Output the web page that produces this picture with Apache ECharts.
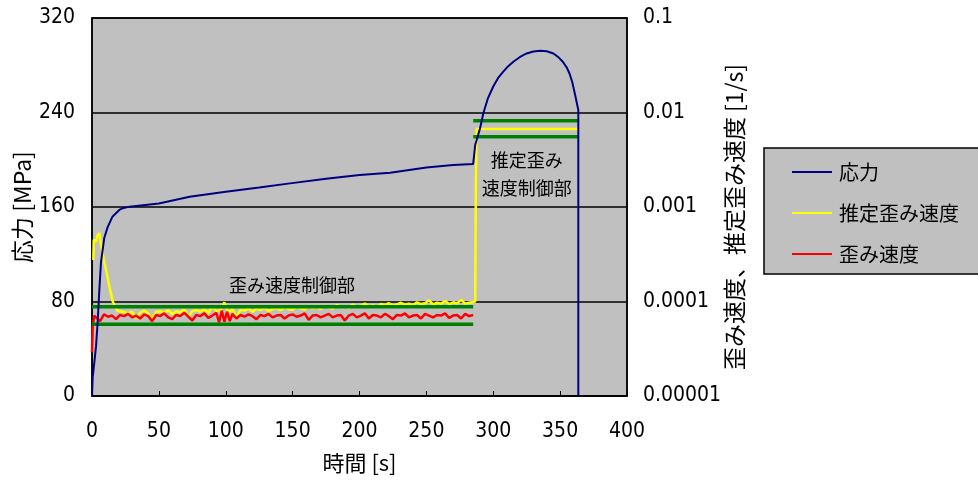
<!DOCTYPE html>
<html>
<head>
<meta charset="utf-8">
<script src="https://cdn.jsdelivr.net/npm/echarts@6/dist/echarts.min.js"></script>
<style>html,body{margin:0;padding:0;background:#fff}#c{width:978px;height:484px}</style>
</head>
<body>
<div id="c"></div>
<script>
// ---- data ----
const xTicks = [0, 50, 100, 150, 200, 250, 300, 350, 400];
const leftTicks = [0, 80, 160, 240, 320];
const rightTickLabels = ['0.00001', '0.0001', '0.001', '0.01', '0.1'];

// 応力 (stress, MPa)
const stressTime = [0, 0.5, 1.7, 3, 4.2, 5.5, 6.7, 8, 9.2, 11.7, 15.4, 20.4, 23, 28, 50, 73, 100, 125, 148, 175, 200, 223, 250, 270, 285, 285.5, 286.5, 290, 292.6, 296, 300, 303.5, 307.5, 311, 315, 320, 325, 330, 335, 340, 345, 349, 352, 355, 357, 359, 361, 362.5, 363.6, 363.6];
const stressVals = [0, 16, 28, 42, 62, 90, 113, 124, 134, 143, 152, 157.5, 159, 160.3, 163, 168.7, 173, 176.5, 180, 184, 187, 189, 193.5, 195.5, 196.5, 198, 212.5, 226, 239.4, 252, 262, 269, 274.6, 279, 283, 287, 290, 291.7, 292.3, 291.8, 290, 286.5, 283, 278, 273, 266, 256, 248, 242, 0];

// 推定歪み速度 (estimated strain rate, 1/s)
const yellowTime = [1, 1.3, 2.2, 3, 4, 5.5, 6.7, 8, 9.2, 11, 13, 15.5, 17, 19,
  21, 24, 27, 30, 33, 36, 39, 42, 45, 48, 51, 54, 57, 60, 63, 66, 69, 72, 75, 78, 81, 84, 87, 90,
  93, 96, 99, 102, 105, 108, 111, 114, 117, 120, 123, 126, 129, 132, 135, 138, 141, 144, 147, 150,
  153, 156, 159, 162, 165, 168, 171, 174, 177, 180, 183, 186, 189, 192, 195, 198, 201, 204, 207, 210,
  213, 216, 219, 222, 225, 228, 231, 234, 237, 240, 243, 246, 249, 252, 255, 258, 261, 264, 267, 270,
  273, 276, 279, 282, 285, 286.5, 287, 287.5, 363.6];
const yellowRate = [2.75e-4, 4.5e-4, 4.7e-4, 4.3e-4, 5.0e-4, 5.3e-4, 4.0e-4, 3.2e-4, 2.6e-4, 2.0e-4, 1.44e-4, 1.0e-4, 9.0e-5, 8.0e-5,
  7.9e-5, 7.7e-5, 7.5e-5, 7.8e-5, 6.6e-5, 7.6e-5, 8.0e-5, 7.5e-5, 6.5e-5, 7.8e-5, 7.9e-5, 7.6e-5, 8.1e-5, 7.4e-5, 7.9e-5, 7.7e-5, 8.2e-5, 6.9e-5, 7.9e-5, 8.1e-5, 7.8e-5, 8.3e-5, 7.6e-5, 8.9e-5,
  7.9e-5, 8.1e-5, 9.8e-5, 7.6e-5, 8.3e-5, 6.8e-5, 8.2e-5, 8.0e-5, 8.5e-5, 7.8e-5, 8.4e-5, 8.1e-5, 8.6e-5, 7.9e-5, 8.3e-5, 8.5e-5, 8.1e-5, 8.7e-5, 8.3e-5, 8.2e-5,
  8.8e-5, 8.4e-5, 8.2e-5, 8.9e-5, 8.5e-5, 8.7e-5, 8.3e-5, 9.0e-5, 8.6e-5, 8.4e-5, 9.2e-5, 8.7e-5, 8.9e-5, 8.5e-5, 9.3e-5, 8.8e-5, 9.0e-5, 9.5e-5, 8.9e-5, 9.1e-5,
  8.7e-5, 9.4e-5, 9.1e-5, 9.6e-5, 9.0e-5, 9.3e-5, 9.7e-5, 9.2e-5, 9.5e-5, 9.1e-5, 9.8e-5, 9.4e-5, 9.6e-5, 1.03e-4, 9.3e-5, 9.7e-5, 9.5e-5, 1.01e-4, 9.4e-5, 9.8e-5,
  9.6e-5, 1.04e-4, 9.5e-5, 9.7e-5, 9.9e-5, 1.0e-4, 1.64e-3, 6.68e-3, 6.68e-3];

// 歪み速度 (strain rate, 1/s)
const redTime = [0, 0.5, 1.5, 1.7,
  3, 6, 9, 12, 15, 18, 21, 24, 27, 30, 33, 36, 39, 42, 45, 48, 51, 54, 57, 60, 63, 66, 69, 72, 75, 78, 81, 84, 87, 90,
  93, 95, 97, 99, 101, 103, 105, 108, 111, 114, 117, 120, 123, 126, 129, 132, 135, 138, 141, 144, 147, 150,
  153, 156, 159, 162, 165, 168, 171, 174, 177, 180, 183, 186, 189, 192, 195, 198, 201, 204, 207, 210,
  213, 216, 219, 222, 225, 228, 231, 234, 237, 240, 243, 246, 249, 252, 255, 258, 261, 264, 267, 270,
  273, 276, 279, 282, 285];
const redRate = [2.9e-5, 5.4e-5, 5.6e-5, 7.1e-5,
  7.0e-5, 6.2e-5, 7.3e-5, 6.9e-5, 7.1e-5, 6.5e-5, 7.2e-5, 7.0e-5, 7.4e-5, 6.8e-5, 7.1e-5, 6.6e-5, 7.3e-5, 7.0e-5, 6.2e-5, 7.2e-5, 7.0e-5, 7.5e-5, 6.8e-5, 6.5e-5, 7.2e-5, 7.0e-5, 7.6e-5, 6.9e-5, 6.3e-5, 7.2e-5, 7.0e-5, 7.5e-5, 6.7e-5, 7.1e-5,
  7.6e-5, 6.0e-5, 8.0e-5, 6.1e-5, 7.8e-5, 6.2e-5, 7.4e-5, 6.6e-5, 7.2e-5, 6.9e-5, 7.3e-5, 7.0e-5, 6.5e-5, 7.2e-5, 7.0e-5, 7.4e-5, 6.8e-5, 7.1e-5, 7.2e-5, 6.6e-5, 7.1e-5, 7.3e-5,
  6.9e-5, 7.1e-5, 7.5e-5, 6.4e-5, 7.1e-5, 7.2e-5, 6.8e-5, 7.1e-5, 7.4e-5, 6.8e-5, 7.1e-5, 7.2e-5, 6.3e-5, 7.1e-5, 7.4e-5, 6.8e-5, 7.1e-5, 7.5e-5, 6.6e-5, 7.2e-5,
  7.1e-5, 6.8e-5, 7.4e-5, 7.0e-5, 6.5e-5, 7.2e-5, 7.1e-5, 7.5e-5, 6.8e-5, 7.1e-5, 7.2e-5, 6.6e-5, 7.4e-5, 7.1e-5, 6.8e-5, 7.2e-5, 7.1e-5, 7.5e-5, 6.7e-5, 7.1e-5,
  7.2e-5, 6.6e-5, 7.4e-5, 7.0e-5, 7.2e-5];

// 制御範囲 (green limit lines)
const limitStart = [0, 0, 285, 285];
const limitEnd = [285, 285, 363.6, 363.6];
const limitRate = [8.8e-5, 5.74e-5, 8.2e-3, 5.55e-3];

// annotations
const noteTexts = ['歪み速度制御部', '推定歪み\n速度制御部'];
const noteTime = [149.5, 325];
const noteStress = [94, 188];

// ---- chart ----
const zip = (a, b) => a.map((v, i) => [v, b[i]]);
const NUM = "'Liberation Sans Narrow','DejaVu Sans Condensed','Noto Sans CJK JP',sans-serif";
const JP = "'Noto Sans CJK JP',sans-serif";

const greenSeries = limitRate.map((r, i) => ({
  name: '制御範囲' + i, type: 'line', yAxisIndex: 1, showSymbol: false, silent: true, z: 5,
  color: '#008000', lineStyle: { color: '#008000', width: 3.5 },
  data: [[limitStart[i], r], [limitEnd[i], r]]
}));

const chart = echarts.init(document.getElementById('c'));
chart.setOption({
  animation: false,
  backgroundColor: '#fff',
  grid: { left: 92, right: 351, top: 18, bottom: 88, containLabel: false, outerBoundsMode: 'none',
    show: true, backgroundColor: '#c0c0c0', borderColor: '#000', borderWidth: 1.5 },
  legend: {
    data: ['応力', '推定歪み速度', '歪み速度'],
    orient: 'vertical', left: 764, top: 148,
    backgroundColor: '#c0c0c0', borderColor: '#000', borderWidth: 1.5, borderRadius: 0,
    padding: [14, 30, 10, 28], itemGap: 21, itemWidth: 40, itemHeight: 2, icon: 'rect',
    textStyle: { fontFamily: JP, fontSize: 20, color: '#000', padding: [0, 0, 0, 2] }
  },
  xAxis: {
    type: 'value', min: 0, max: 400, interval: 50,
    name: '時間 [s]', nameLocation: 'middle', nameGap: 56, nameMoveOverlap: false,
    nameTextStyle: { fontFamily: JP, fontSize: 22, color: '#000' },
    axisLine: { lineStyle: { color: '#000', width: 1.5 } },
    axisTick: { inside: true, length: 5, lineStyle: { color: '#000' } },
    axisLabel: { fontFamily: NUM, fontSize: 21, color: '#000', margin: 25, formatter: v => String(xTicks[xTicks.indexOf(v)]) },
    splitLine: { show: false }
  },
  yAxis: [{
    type: 'value', min: 0, max: 320, interval: 80,
    name: '応力 [MPa]', nameLocation: 'middle', nameGap: 58, nameRotate: 90, nameMoveOverlap: false,
    nameTextStyle: { fontFamily: JP, fontSize: 23, color: '#000' },
    axisLine: { show: true, lineStyle: { color: '#000', width: 1.5 } },
    axisTick: { show: false },
    axisLabel: { fontFamily: NUM, fontSize: 21, color: '#000', margin: 17, formatter: v => String(leftTicks[leftTicks.indexOf(v)]) },
    splitLine: { lineStyle: { color: '#000', width: 1.5 } }
  }, {
    type: 'log', logBase: 10, min: 1e-5, max: 0.1, position: 'right',
    name: '歪み速度、推定歪み速度 [1/s]', nameLocation: 'middle', nameGap: 96, nameRotate: 90, nameMoveOverlap: false,
    nameTextStyle: { fontFamily: JP, fontSize: 23, color: '#000', padding: [0, 20, 0, 0] },
    axisLine: { show: true, lineStyle: { color: '#000', width: 1.5 } },
    axisTick: { show: false },
    axisLabel: { fontFamily: NUM, fontSize: 21, color: '#000', margin: 16,
      formatter: v => rightTickLabels[Math.round(Math.log10(v)) + 5] },
    splitLine: { show: false }
  }],
  series: [
    { name: '推定歪み速度', type: 'line', yAxisIndex: 1, showSymbol: false, z: 2, color: '#ffff00',
      lineStyle: { color: '#ffff00', width: 2.5 }, data: zip(yellowTime, yellowRate) },
    { name: '歪み速度', type: 'line', yAxisIndex: 1, showSymbol: false, z: 3, color: '#ff0000',
      lineStyle: { color: '#ff0000', width: 2.5 }, data: zip(redTime, redRate) },
    ...greenSeries,
    { name: '応力', type: 'line', yAxisIndex: 0, showSymbol: false, z: 6, color: '#000080',
      lineStyle: { color: '#000080', width: 2 }, data: zip(stressTime, stressVals) }
  ]
});

const elements = [];
noteTexts.forEach((t, i) => {
  const p = chart.convertToPixel({ xAxisIndex: 0, yAxisIndex: 0 }, [noteTime[i], noteStress[i]]);
  elements.push({ type: 'text', x: p[0], y: p[1], z: 10,
    style: { text: t, fontFamily: JP, fontSize: 18, fill: '#000', align: 'center', verticalAlign: 'middle', lineHeight: 28 } });
});
chart.setOption({ graphic: elements });
</script>
</body>
</html>
